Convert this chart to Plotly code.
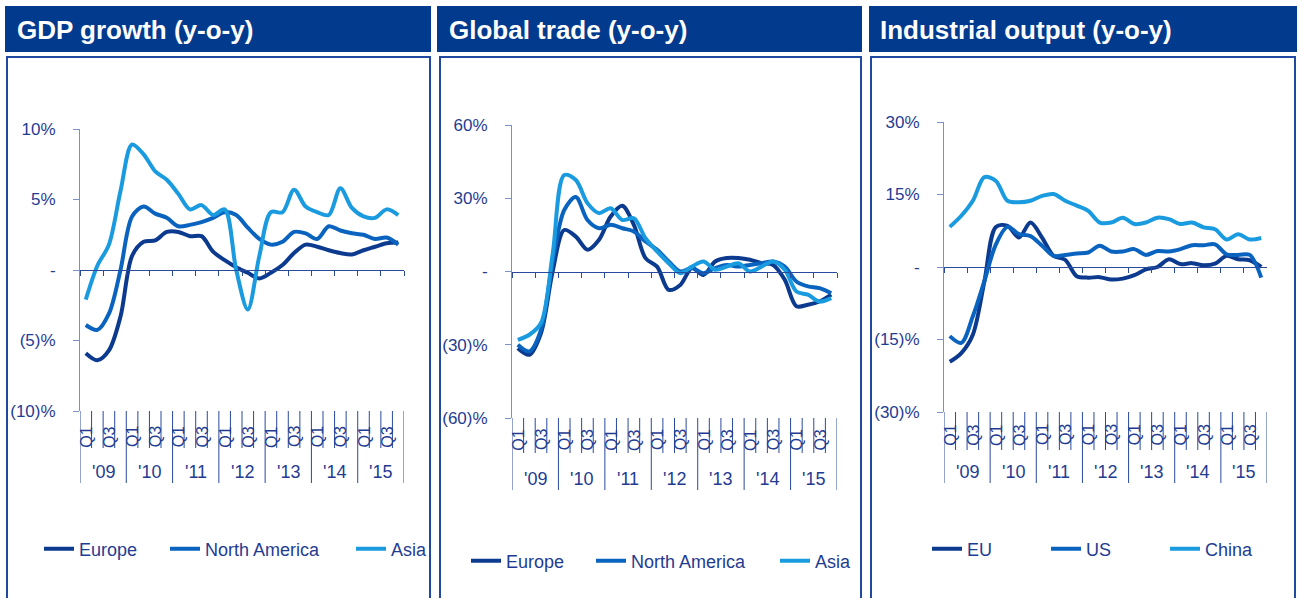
import plotly.graph_objects as go

W, H = 1299, 598

# ---------------- data ----------------
quarters = ['Q1', 'Q2', 'Q3', 'Q4']
years = ["'09", "'10", "'11", "'12", "'13", "'14", "'15"]
categories = [f"{q} {y}" for y in years for q in quarters]
shown_quarters = ['Q1', 'Q3']

gdp_europe = [-5.9, -6.4, -5.7, -3.3, 1.0, 2.0, 2.1, 2.7, 2.7, 2.4, 2.4, 1.3, 0.7, 0.2,
              -0.2, -0.6, -0.2, 0.35, 1.2, 1.8, 1.65, 1.4, 1.2, 1.1, 1.4, 1.65, 1.9, 1.95]
gdp_north_america = [-3.9, -4.25, -3.1, 0.0, 3.8, 4.5, 4.0, 3.7, 3.1, 3.2, 3.4, 3.7, 4.1, 3.9,
                     3.0, 2.2, 1.8, 2.0, 2.7, 2.6, 2.2, 3.1, 2.8, 2.6, 2.5, 2.2, 2.3, 1.8]
gdp_asia = [-2.1, 0.3, 1.8, 5.6, 8.9, 8.2, 7.0, 6.4, 5.4, 4.3, 4.6, 3.9, 4.3, 0.0,
            -2.8, 1.0, 4.1, 4.1, 5.7, 4.5, 4.1, 3.9, 5.8, 4.4, 3.8, 3.7, 4.3, 3.9]

trade_europe = [-31.4, -34.1, -25.2, 0.0, 17.0, 14.3, 8.9, 13.0, 22.5, 26.9, 19.1, 5.5, 2.0, -7.5,
                -5.5, 1.4, -1.4, 4.1, 5.5, 5.5, 4.8, 3.4, 2.7, -3.4, -14.2, -13.6, -12.3, -9.5]
trade_north_america = [-30.0, -32.7, -23.9, 4.0, 25.2, 30.5, 21.1, 17.7, 19.1, 17.7, 16.4, 12.3, 8.9, 4.1,
                       0.0, 1.4, -0.7, 1.4, 2.7, 2.0, 2.7, 3.4, 4.1, 2.0, -4.1, -6.1, -6.8, -8.9]
trade_asia = [-28.0, -25.9, -21.1, 7.0, 39.5, 37.5, 28.0, 23.9, 25.9, 21.1, 21.8, 13.6, 8.2, 3.4,
              -0.7, 2.0, 4.1, 0.7, 2.0, 3.4, 0.0, 2.0, 4.1, 0.7, -8.2, -9.5, -12.3, -10.9]

ind_eu = [-19.6, -17.8, -14.0, -3.0, 8.3, 8.5, 6.1, 9.2, 6.1, 2.3, 1.5, -1.9, -2.2, -2.1,
          -2.6, -2.4, -1.7, -0.5, 0.0, 1.6, 0.6, 0.8, 0.35, 0.7, 2.3, 1.6, 1.4, 0.0]
ind_us = [-14.3, -15.7, -10.2, -2.9, 4.7, 8.3, 6.8, 6.4, 4.4, 2.3, 2.5, 2.8, 3.0, 4.4,
          3.2, 3.2, 3.7, 2.5, 3.3, 3.2, 3.7, 4.5, 4.5, 4.7, 2.6, 2.5, 2.5, -2.2]
ind_china = [8.3, 10.6, 13.7, 18.6, 17.8, 13.7, 13.4, 13.7, 14.7, 15.1, 13.7, 12.7, 11.6, 9.2,
             9.2, 10.2, 8.9, 9.2, 10.2, 9.9, 8.9, 9.2, 8.2, 7.8, 5.7, 6.8, 5.7, 6.0]

gdp_ticks = [-10, -5, 0, 5, 10]
gdp_ticktext = ['(10)%', '(5)%', '-', '5%', '10%']
trade_ticks = [-60, -30, 0, 30, 60]
trade_ticktext = ['(60)%', '(30)%', '-', '30%', '60%']
ind_ticks = [-30, -15, 0, 15, 30]
ind_ticktext = ['(30)%', '(15)%', '-', '15%', '30%']

titles = ['GDP growth (y-o-y)', 'Global trade (y-o-y)', 'Industrial output (y-o-y)']

# ---------------- styles ----------------
FONT = 'Arial, Liberation Sans, sans-serif'
TXT = '#1F3C92'
HEADER = '#023A8E'
BORDER = '#2049A0'
AXIS_Y = '#7D90C6'
AXIS_X = '#2A4A9E'
C_DARK = '#0B3A8F'
C_MED = '#0A64BF'
C_LIGHT = '#1A9BDF'

panels = [
    dict(series=[('Europe', gdp_europe, C_DARK), ('North America', gdp_north_america, C_MED),
                 ('Asia', gdp_asia, C_LIGHT)],
         ticks=gdp_ticks, ticktext=gdp_ticktext,
         px_x=(80, 404), px_y=(129, 411),
         head=(5, 431), box=(7, 430), title_x=15,
         qlab_y=437, short_sep=448, year_y=472, long_sep=483,
         leg_text_x=(79, 205, 391), leg_y=549),
    dict(series=[('Europe', trade_europe, C_DARK), ('North America', trade_north_america, C_MED),
                 ('Asia', trade_asia, C_LIGHT)],
         ticks=trade_ticks, ticktext=trade_ticktext,
         px_x=(512, 837), px_y=(125, 418),
         head=(437, 862), box=(440, 861), title_x=447,
         qlab_y=440, short_sep=453, year_y=479, long_sep=490,
         leg_text_x=(506, 631, 815), leg_y=561),
    dict(series=[('EU', ind_eu, C_DARK), ('US', ind_us, C_MED), ('China', ind_china, C_LIGHT)],
         ticks=ind_ticks, ticktext=ind_ticktext,
         px_x=(944, 1267), px_y=(122, 412),
         head=(869, 1297), box=(871, 1295), title_x=878,
         qlab_y=435, short_sep=450, year_y=472, long_sep=483,
         leg_text_x=(967, 1086, 1205), leg_y=549),
]

fig = go.Figure()
shapes = []
annotations = []
layout_extra = {}

def py(v):
    return 1 - v / H

leg_count = 0
for k, p in enumerate(panels):
    sfx = '' if k == 0 else str(k + 1)
    xname, yname = 'x' + sfx, 'y' + sfx
    ymin, ymax = p['ticks'][0], p['ticks'][-1]
    ydom = [py(p['px_y'][1]), py(p['px_y'][0])]
    zero_pos = ydom[0] + (0 - ymin) / (ymax - ymin) * (ydom[1] - ydom[0])

    for (name, vals, col), tx in zip(p['series'], p['leg_text_x']):
        leg_count += 1
        legname = 'legend' if leg_count == 1 else f'legend{leg_count}'
        fig.add_trace(go.Scatter(
            x=categories, y=vals, name=name, mode='lines',
            line=dict(color=col, width=4, shape='spline', smoothing=0.9),
            xaxis=xname, yaxis=yname, legend=legname, hoverinfo='skip'))
        layout_extra[legname] = dict(
            orientation='h', x=(tx - 40) / W, y=py(p['leg_y']), xanchor='left', yanchor='middle',
            font=dict(family=FONT, size=18, color=TXT), bgcolor='rgba(0,0,0,0)',
            itemclick=False, itemdoubleclick=False)

    layout_extra['xaxis' + sfx] = dict(
        domain=[p['px_x'][0] / W, p['px_x'][1] / W], type='category',
        categoryorder='array', categoryarray=categories,
        range=[-0.5, len(categories) - 0.5],
        anchor='free', position=zero_pos, automargin=False,
        showline=True, linecolor=AXIS_X, linewidth=1,
        ticks='outside', tickson='boundaries', ticklen=5, tickcolor=AXIS_X, tickwidth=1,
        showticklabels=False, showgrid=False, zeroline=False, fixedrange=True)
    layout_extra['yaxis' + sfx] = dict(
        domain=ydom, range=[ymin, ymax], anchor=xname, automargin=False,
        tickvals=p['ticks'], ticktext=p['ticktext'],
        ticks='outside', ticklen=6, tickcolor=AXIS_Y, tickwidth=1,
        showline=True, linecolor=AXIS_Y, linewidth=1,
        showgrid=False, zeroline=False, ticklabelstandoff=14,
        tickfont=dict(family=FONT, size=17, color=TXT), fixedrange=True)

    # header and frame
    shapes.append(dict(type='rect', xref='paper', yref='paper',
                       x0=p['head'][0] / W, x1=p['head'][1] / W, y0=py(52), y1=py(6),
                       fillcolor=HEADER, line=dict(width=0), layer='below'))
    shapes.append(dict(type='rect', xref='paper', yref='paper',
                       x0=p['box'][0] / W, x1=p['box'][1] / W, y0=py(606), y1=py(57),
                       fillcolor='rgba(0,0,0,0)', line=dict(color=BORDER, width=2), layer='below'))
    annotations.append(dict(text=titles[k], xref='paper', yref='paper',
                            x=p['title_x'] / W, y=py(30), xanchor='left', yanchor='middle',
                            showarrow=False,
                            font=dict(family=FONT, size=26, color='white', weight='bold')))

    # category boundaries below the plot
    bottom = p['px_y'][1]
    for i in range(len(categories) + 1):
        is_year = (i % 4 == 0)
        shapes.append(dict(type='line', xref=xname, yref='paper',
                           x0=i - 0.5, x1=i - 0.5,
                           y0=py(bottom), y1=py(p['long_sep'] if is_year else p['short_sep']),
                           line=dict(color=AXIS_X, width=1)))
    for i, c in enumerate(categories):
        q = quarters[i % 4]
        if q in shown_quarters:
            annotations.append(dict(text=q, xref=xname, yref='paper', x=c, y=py(p['qlab_y']),
                                    xanchor='center', yanchor='middle', textangle=-90,
                                    showarrow=False, font=dict(family=FONT, size=16, color=TXT)))
    for j, yr in enumerate(years):
        annotations.append(dict(text=yr, xref=xname, yref='paper', x=j * 4 + 1.5, y=py(p['year_y']),
                                xanchor='center', yanchor='middle', showarrow=False,
                                font=dict(family=FONT, size=18, color=TXT)))

fig.update_layout(
    width=W, height=H, margin=dict(l=0, r=0, t=0, b=0, pad=0, autoexpand=False),
    paper_bgcolor='white', plot_bgcolor='rgba(0,0,0,0)',
    showlegend=True, shapes=shapes, annotations=annotations,
    font=dict(family=FONT, color=TXT),
    **layout_extra)

fig.write_html('out.html', config=dict(displayModeBar=False),
               post_script="document.body.style.margin='0px';")
